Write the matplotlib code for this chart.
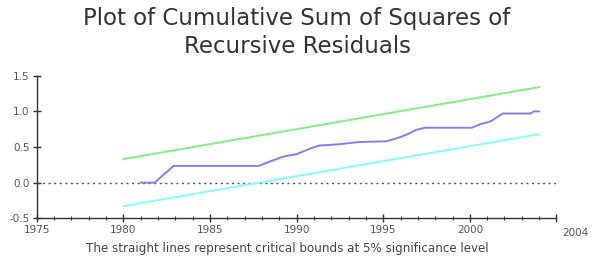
import matplotlib
matplotlib.use('Agg')
import matplotlib.pyplot as plt
import matplotlib.transforms as mtransforms

# cusum of squares
years = [1981.0, 1981.8, 1982.9, 1987.8, 1988.5, 1989.3, 1990.0, 1990.8, 1991.3,
         1992.5, 1993.6, 1995.2, 1996.0, 1996.5, 1996.9, 1997.4, 2000.1, 2000.6,
         2001.2, 2001.9, 2003.5, 2003.7, 2004.0]
cusumsq = [0.0, 0.0, 0.235, 0.235, 0.30, 0.37, 0.40, 0.48, 0.52,
           0.54, 0.57, 0.58, 0.64, 0.69, 0.74, 0.77, 0.77, 0.82,
           0.86, 0.97, 0.97, 1.00, 1.00]

# critical bounds (straight lines)
bound_years = [1980, 2004]
upper = [0.33, 1.34]
lower = [-0.33, 0.68]

xticks = [1975, 1980, 1985, 1990, 1995, 2000, 2005]
xlabels = ['1975', '1980', '1985', '1990', '1995', '2000', '2004']
yticks = [-0.5, 0.0, 0.5, 1.0, 1.5]

plt.rcParams['font.family'] = ['DejaVu Sans']

fig = plt.figure(figsize=(5.94, 2.63), dpi=100)
ax = fig.add_axes([0.0618, 0.170, 0.875, 0.542])

ax.axhline(0, color='#555555', lw=1, ls=(0, (1.5, 2.5)))
ax.plot(bound_years, upper, color='#80f080', lw=1.4)
ax.plot(bound_years, lower, color='#80ffff', lw=1.4)
ax.plot(years, cusumsq, color='#8080ff', lw=1.4)

ax.set_xlim(1975, 2005)
ax.set_ylim(-0.5, 1.5)
ax.spines['top'].set_visible(False)
ax.spines['right'].set_visible(False)
for s in ['left', 'bottom']:
    ax.spines[s].set_color('#333333')
    ax.spines[s].set_linewidth(1)

ax.set_xticks(xticks)
ax.set_xticklabels(xlabels)
ax.set_xticks(range(1975, 2006), minor=True)
ax.set_yticks(yticks)
ax.set_yticklabels(['-0.5', '0.0', '0.5', '1.0', '1.5'])
ax.tick_params(axis='both', which='major', direction='inout', length=6, width=1,
               colors='#333333', labelsize=7.5, pad=2)
ax.tick_params(axis='both', which='major', labelcolor='#555555')
ax.tick_params(axis='x', which='minor', direction='inout', length=3, width=0.8,
               colors='#333333')

# last label sits to the right of the end tick
lab = ax.get_xticklabels()[-1]
lab.set_horizontalalignment('left')
lab.set_transform(lab.get_transform() + mtransforms.ScaledTranslation(6 / 100, -3 / 100, fig.dpi_scale_trans))

fig.text(0.5, 0.93, 'Plot of Cumulative Sum of Squares of', ha='center', va='center',
         fontsize=16.5, color='#333333')
fig.text(0.5, 0.825, 'Recursive Residuals', ha='center', va='center',
         fontsize=16.5, color='#333333')
fig.text(0.483, 0.057, 'The straight lines represent critical bounds at 5% significance level',
         ha='center', va='center', fontsize=8.6, color='#444444')

plt.savefig('out.png', dpi=100)
